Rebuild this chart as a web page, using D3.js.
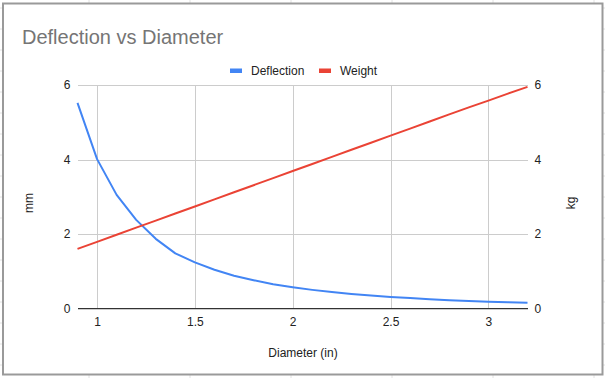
<!DOCTYPE html>
<html>
<head>
<meta charset="utf-8">
<script src="https://cdn.jsdelivr.net/npm/d3@7"></script>
<style>
  body { margin: 0; background: #fff; }
  svg { display: block; font-family: Arial, "Liberation Sans", sans-serif; }
  .grid line { stroke: #cccccc; shape-rendering: crispEdges; }
  .grid path { display: none; }
  .tick text { fill: #222; font-size: 12px; }
</style>
</head>
<body>
<svg class="plot"></svg>
<script>
// data
const diameter = [0.9, 1.0, 1.1, 1.2, 1.3, 1.4, 1.5, 1.6, 1.7, 1.8, 1.9, 2.0,
                  2.1, 2.2, 2.3, 2.4, 2.5, 2.6, 2.7, 2.8, 2.9, 3.0, 3.1, 3.2]
const deflection = [5.52, 4.01, 3.05, 2.38, 1.87, 1.48, 1.24, 1.04, 0.88, 0.76, 0.65, 0.57,
                    0.50, 0.44, 0.39, 0.35, 0.31, 0.28, 0.25, 0.22, 0.20, 0.18, 0.17, 0.155]
const weight = [1.60, 1.79, 1.98, 2.17, 2.36, 2.55, 2.74, 2.93, 3.12, 3.31, 3.50, 3.69,
                3.88, 4.07, 4.26, 4.45, 4.64, 4.83, 5.02, 5.21, 5.40, 5.58, 5.77, 5.95]
const xTicks = [1, 1.5, 2, 2.5, 3]
const yTicks = [0, 2, 4, 6]
const series = [
  { name: 'Deflection', values: deflection, color: '#4285f4' },
  { name: 'Weight', values: weight, color: '#ea4335' },
]

const W = 605, H = 378
const plot = { left: 77.5, right: 527.5, top: 85, bottom: 308.5 }

const svg = d3.select('.plot')
    .attr('width', W)
    .attr('height', H)

// spreadsheet cells behind the chart
const sheet = svg.append('g').attr('stroke', '#e2e2e2')
d3.range(89, W, 101).forEach(x => {
  sheet.append('line').attr('x1', x).attr('x2', x).attr('y1', 0).attr('y2', H)
})
d3.range(8, H, 21).forEach(y => {
  sheet.append('line').attr('x1', 0).attr('x2', W).attr('y1', y).attr('y2', y)
})

// chart frame
svg.append('rect')
    .attr('x', 3).attr('y', 3.5)
    .attr('width', 599.5).attr('height', 371)
    .attr('fill', '#fff')
    .attr('stroke', '#9a9a9a')
    .attr('stroke-width', 2)

const xScale = d3.scaleLinear()
  .domain([0.9, 3.2])
  .range([plot.left, plot.right])
const yScale = d3.scaleLinear()
  .domain([0, 6])
  .range([plot.bottom, plot.top])

// Grid
// ====
svg.append('g')
    .attr('class', 'grid')
    .attr('transform', `translate(0, ${plot.bottom})`)
    .call(d3.axisBottom(xScale).tickValues(xTicks).tickSize(-(plot.bottom - plot.top)).tickPadding(9).tickFormat(d3.format('')))
    .call(g => g.selectAll('text').attr('dy', '0.71em'))
svg.append('g')
    .attr('class', 'grid')
    .attr('transform', `translate(${plot.left}, 0)`)
    .call(d3.axisLeft(yScale).tickValues(yTicks).tickSize(-(plot.right - plot.left)).tickPadding(7).tickFormat(d3.format('d')))
svg.append('g')
    .attr('class', 'grid')
    .attr('transform', `translate(${plot.right}, 0)`)
    .call(d3.axisRight(yScale).tickValues(yTicks).tickSize(0).tickPadding(7).tickFormat(d3.format('d')))

// baseline
svg.append('line')
    .attr('x1', plot.left).attr('x2', plot.right)
    .attr('y1', yScale(0)).attr('y2', yScale(0))
    .attr('stroke', '#333')
    .attr('stroke-width', 1)
    .attr('shape-rendering', 'crispEdges')

// Lines
// =====
const line = d3.line()
  .x((d, i) => xScale(diameter[i]))
  .y(d => yScale(d))

svg.append('g')
  .selectAll('path')
    .data(series)
  .enter().append('path')
    .attr('d', d => line(d.values))
    .attr('fill', 'none')
    .attr('stroke', d => d.color)
    .attr('stroke-width', 2)
    .attr('stroke-linejoin', 'round')

// Texts
// =====
svg.append('text')
    .attr('x', 22).attr('y', 44)
    .attr('font-size', 20)
    .attr('fill', '#757575')
    .text('Deflection vs Diameter')

const legend = svg.append('g')
const legendX = [230, 319]
series.forEach((s, i) => {
  legend.append('rect')
      .attr('x', legendX[i]).attr('y', 68.5)
      .attr('width', 12).attr('height', 4.5)
      .attr('fill', s.color)
  legend.append('text')
      .attr('x', legendX[i] + 21).attr('y', 75)
      .attr('font-size', 12)
      .attr('fill', '#222')
      .text(s.name)
})

svg.append('text')
    .attr('x', 303).attr('y', 357)
    .attr('text-anchor', 'middle')
    .attr('font-size', 12)
    .attr('fill', '#222')
    .text('Diameter (in)')

svg.append('text')
    .attr('transform', 'translate(33, 203) rotate(-90)')
    .attr('text-anchor', 'middle')
    .attr('font-size', 12)
    .attr('fill', '#222')
    .text('mm')

svg.append('text')
    .attr('transform', 'translate(575, 203) rotate(-90)')
    .attr('text-anchor', 'middle')
    .attr('font-size', 12)
    .attr('fill', '#222')
    .text('kg')
</script>
</body>
</html>
